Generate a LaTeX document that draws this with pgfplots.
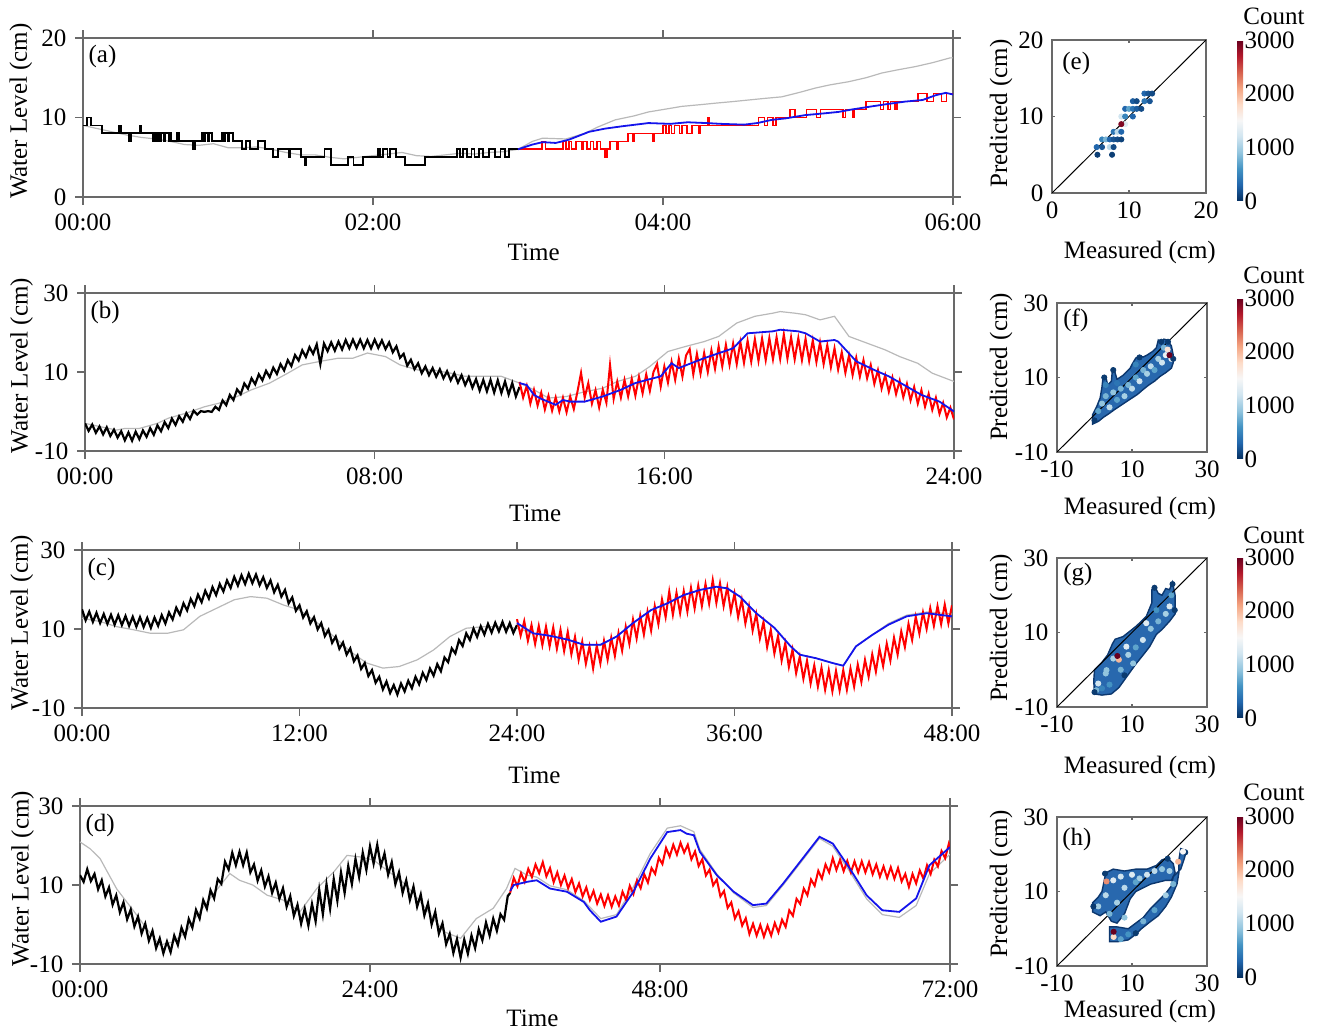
\documentclass[border=0pt]{standalone}
\usepackage{fontspec}
\setmainfont{Liberation Serif}
\usepackage{pgfplots}
\pgfplotsset{compat=1.18}

\definecolor{grayline}{RGB}{185,185,185}
\definecolor{redline}{RGB}{255,0,0}
\definecolor{blueline}{RGB}{20,20,235}
\definecolor{frame}{RGB}{105,105,105}
\definecolor{cloud}{RGB}{40,104,174}
\definecolor{cloudedge}{RGB}{12,55,110}

\pgfplotsset{
  colormap={rdbu}{rgb255(0cm)=(5,48,97); rgb255(1cm)=(33,102,172); rgb255(2cm)=(67,147,195);
    rgb255(3cm)=(146,197,222); rgb255(4cm)=(209,229,240); rgb255(5cm)=(247,247,247);
    rgb255(6cm)=(253,219,199); rgb255(7cm)=(244,165,130); rgb255(8cm)=(214,96,77);
    rgb255(9cm)=(178,24,43); rgb255(10cm)=(103,0,31)},
  base/.style={scale only axis, axis line style={frame, line width=0.6pt},
    every tick/.style={frame, line width=0.6pt},
    /pgf/number format/assume math mode=true, clip=true},
  ts/.style={base, width=435pt, height=79pt, tick align=outside, major tick length=4pt,
    ymin=-10, ymax=30, ytick={-10,10,30}, xlabel=Time, ylabel={Water Level (cm)}},
  sc/.style={base, width=75pt, height=74.5pt, tick align=inside, major tick length=1.5pt,
    xmin=-10, xmax=30, ymin=-10, ymax=30, xtick={-10,10,30}, ytick={-10,10,30},
    xlabel={Measured (cm)}, ylabel={Predicted (cm)},
    point meta min=0, point meta max=3000, colormap name=rdbu, colorbar right,
    colorbar shift/.style={}},
  cbar/.style 2 args={colorbar style={at={(parent axis.north east)}, anchor=north west,
    xshift=#1, yshift=#2, scale only axis, width=3pt, height=80.5pt,
    ytick={0,1000,2000,3000}, yticklabels={0,1000,2000,3000}, major tick length=0pt,
    axis line style={draw=none}, yticklabel style={xshift=-3.5pt}}},
  hex/.style={scatter, only marks, mark=*, mark size=1.3pt, scatter src=explicit,
    scatter/use mapped color={draw=mapped color, fill=mapped color}},
  blob/.style={fill=cloud, draw=cloudedge, line width=0.7pt},
  gline/.style={grayline, line width=0.6pt},
  kline/.style={black, line width=1.1pt},
  rline/.style={redline, line width=1.0pt},
  bline/.style={blueline, line width=0.9pt},
}

\begin{document}
\fontsize{12.5}{15}\selectfont
\begin{tikzpicture}
\path[use as bounding box] (0,0) rectangle (659.5pt,-516pt);

% ---------- (a)
\begin{axis}[ts, at={(41.5pt,-98.5pt)}, anchor=south west, width=435pt, height=79.5pt,
  xmin=0, xmax=6, ymin=0, ymax=20, ytick={0,10,20},
  xtick={0,2,4,6}, xticklabels={00:00,02:00,04:00,06:00},
  xlabel style={at={(axis description cs:0.518,-0.346)}, anchor=center},
  ylabel style={at={(axis description cs:-0.0713,0.54)}, anchor=center}]
\addplot[gline] coordinates {(0,9.0)(0.1,8.6)(0.2,8.2)(0.3,7.8)(0.4,7.5)(0.5,7.3)(0.6,7.0)(0.7,6.6)(0.8,6.5)(0.9,6.7)(1.0,6.2)(1.1,6.2)(1.2,6.3)(1.3,6.0)(1.4,5.6)(1.5,5.3)(1.6,5.3)(1.7,5.0)(1.8,4.8)(1.9,5.0)(2.0,5.2)(2.1,5.4)(2.2,5.6)(2.3,5.2)(2.4,5.1)(2.5,5.3)(2.6,5.5)(2.7,5.4)(2.8,5.6)(2.9,5.7)(3.0,6.0)(3.1,7.0)(3.17,7.4)(3.33,7.3)(3.46,8.0)(3.55,8.8)(3.67,9.7)(3.8,10.2)(3.9,10.7)(4.0,11.0)(4.13,11.4)(4.25,11.6)(4.36,11.8)(4.48,12.0)(4.59,12.2)(4.7,12.4)(4.82,12.6)(4.95,13.2)(5.05,13.7)(5.15,14.1)(5.28,14.5)(5.4,15.0)(5.51,15.6)(5.62,16.0)(5.74,16.4)(5.86,16.9)(5.98,17.5)(6.0,17.5)};
\addplot[black, line width=0.9pt, const plot] coordinates {(0,9)(0.03,10)(0.055,9)(0.13,8)(0.25,9)(0.26,8)(0.32,7)(0.33,8)(0.39,9)(0.40,8)(0.485,7)(0.495,8)(0.505,7)(0.515,8)(0.53,7)(0.54,8)(0.555,7)(0.565,8)(0.59,7)(0.6,8)(0.611,7)(0.65,8)(0.66,7)(0.76,6)(0.77,7)(0.82,8)(0.83,7)(0.84,8)(0.86,7)(0.87,8)(0.89,7)(0.955,8)(0.965,7)(0.98,8)(1.0,7)(1.01,8)(1.035,7)(1.094,6)(1.125,7)(1.15,6)(1.205,7)(1.255,6)(1.31,5)(1.345,6)(1.42,5)(1.43,6)(1.505,5)(1.53,4)(1.54,5)(1.665,6)(1.71,4)(1.83,5)(1.865,4)(1.93,5)(2.035,6)(2.05,5)(2.07,6)(2.1,5)(2.12,6)(2.16,5)(2.22,4)(2.36,5)(2.58,6)(2.6,5)(2.62,6)(2.65,5)(2.68,6)(2.7,5)(2.73,6)(2.76,5)(2.8,6)(2.84,5)(2.88,6)(2.91,5)(2.94,6)(3.0,6)};
\addplot[redline, line width=0.8pt, const plot] coordinates {(3.0,6)(3.165,7)(3.19,6)(3.31,7)(3.33,6)(3.35,7)(3.37,6)(3.4,7)(3.44,6)(3.45,7)(3.475,6)(3.5,7)(3.52,6)(3.545,7)(3.57,6)(3.6,5)(3.615,6)(3.635,7)(3.68,6)(3.69,7)(3.76,8)(3.79,7)(3.8,8)(3.93,7)(3.94,8)(4.0,9)(4.02,8)(4.04,9)(4.06,8)(4.08,9)(4.115,8)(4.13,9)(4.165,8)(4.2,9)(4.25,8)(4.26,9)(4.31,10)(4.32,9)(4.66,10)(4.7,9)(4.72,10)(4.76,9)(4.78,10)(4.875,11)(4.91,10)(4.99,11)(5.06,10)(5.085,11)(5.24,10)(5.26,11)(5.31,10)(5.32,11)(5.4,12)(5.5,11)(5.52,12)(5.55,11)(5.57,12)(5.6,11)(5.615,12)(5.76,13)(5.82,12)(5.865,13)(5.92,12)(5.955,13)(6.0,13)};
\addplot[bline] coordinates {(3.0,6)(3.1,6.6)(3.17,6.9)(3.26,6.8)(3.35,7.2)(3.49,8.2)(3.6,8.6)(3.72,8.9)(3.9,9.3)(4.05,9.2)(4.17,9.4)(4.3,9.3)(4.4,9.2)(4.56,9.1)(4.65,9.3)(4.75,9.7)(4.85,9.9)(4.98,10.3)(5.1,10.5)(5.21,10.7)(5.3,11.0)(5.44,11.4)(5.55,11.7)(5.67,12.0)(5.79,12.2)(5.88,12.8)(5.95,13.1)(6.0,12.9)};
\node[anchor=north west, inner sep=0pt] at (rel axis cs:0.006,0.956) {(a)};
\end{axis}

% ---------- (b)
\begin{axis}[ts, at={(42.5pt,-225.5pt)}, anchor=south west, width=434.5pt,
  xmin=0, xmax=24, xtick={0,8,16,24}, xticklabels={00:00,08:00,16:00,24:00},
  xlabel style={at={(axis description cs:0.518,-0.392)}, anchor=center},
  ylabel style={at={(axis description cs:-0.073,0.54)}, anchor=center}]
\addplot[gline] coordinates {(0,-3)(0.4,-3.8)(0.87,-4.7)(1.1,-4.3)(1.5,-4.3)(2.0,-3.0)(2.3,-1.7)(2.8,-0.4)(3.3,1.2)(3.7,2.1)(4.2,3.8)(4.6,5.5)(5.1,7.2)(5.6,9.7)(6.0,11.8)(6.5,12.7)(7.0,13.5)(7.4,13.5)(7.8,14.8)(8.3,13.9)(8.7,11.8)(9.2,10.5)(9.6,10.5)(10.1,9.7)(10.5,8.9)(11.0,8.9)(11.5,8.9)(12.0,7.2)(12.4,5.5)(12.8,3.4)(13.3,3.8)(13.8,5.0)(14.3,5.9)(14.7,7.6)(15.2,8.9)(15.6,11.4)(16.1,15.2)(16.6,16.5)(17.1,17.7)(17.5,19.0)(18.0,22.4)(18.5,24.1)(19.0,24.9)(19.2,25.3)(19.6,24.9)(19.9,24.5)(20.3,23.2)(20.7,24.1)(21.1,19.0)(21.6,17.3)(22.1,15.6)(22.5,13.9)(23.0,12.2)(23.4,9.7)(24.0,7.6)};
\addplot[kline] coordinates {(0.0,-3.0)(0.1,-4.9)(0.2,-3.3)(0.3,-5.4)(0.4,-3.8)(0.5,-5.8)(0.6,-4.0)(0.7,-6.2)(0.8,-4.6)(0.9,-6.6)(1.0,-5.0)(1.1,-7.3)(1.2,-5.3)(1.3,-7.4)(1.4,-5.1)(1.5,-7.0)(1.6,-4.8)(1.7,-6.4)(1.8,-4.2)(1.9,-5.9)(2.0,-3.5)(2.1,-5.0)(2.2,-2.7)(2.3,-4.2)(2.4,-1.8)(2.5,-3.4)(2.6,-1.2)(2.7,-2.6)(2.8,-0.4)(2.9,-1.9)(3.0,0.2)(3.1,-0.8)(3.2,0.1)(3.3,-0.1)(3.4,0.1)(3.5,-0.1)(3.6,1.2)(3.7,0.4)(3.8,2.8)(3.9,1.6)(4.0,4.2)(4.1,2.9)(4.2,5.6)(4.3,4.4)(4.4,7.1)(4.5,5.8)(4.6,8.4)(4.7,6.9)(4.8,9.4)(4.9,7.9)(5.0,10.3)(5.1,8.7)(5.2,11.1)(5.3,9.5)(5.4,12.0)(5.5,10.4)(5.6,13.0)(5.7,11.5)(5.8,14.3)(5.9,12.9)(6.0,15.5)(6.1,13.8)(6.2,16.3)(6.3,14.6)(6.4,17.0)(6.5,12.0)(6.6,17.2)(6.7,15.3)(6.8,17.5)(6.9,15.4)(7.0,17.7)(7.1,15.7)(7.2,18.1)(7.3,16.0)(7.4,18.2)(7.5,16.1)(7.6,18.2)(7.7,16.0)(7.8,18.1)(7.9,16.0)(8.0,18.2)(8.1,16.1)(8.2,18.0)(8.3,15.8)(8.4,17.5)(8.5,15.0)(8.6,16.5)(8.7,13.6)(8.8,14.6)(8.9,11.6)(9.0,13.1)(9.1,10.7)(9.2,12.2)(9.3,9.7)(9.4,11.4)(9.5,9.2)(9.6,11.0)(9.7,8.8)(9.8,10.7)(9.9,8.4)(10.0,10.2)(10.1,7.9)(10.2,9.7)(10.3,7.3)(10.4,9.2)(10.5,6.7)(10.6,8.7)(10.7,6.0)(10.8,8.2)(10.9,5.3)(11.0,8.0)(11.1,5.1)(11.2,8.0)(11.3,4.8)(11.4,7.9)(11.5,4.7)(11.6,7.6)(11.7,4.3)(11.8,7.2)(11.9,3.8)(12.0,6.2)};
\addplot[rline] coordinates {(12.0,7.5)(12.1,3.5)(12.2,6.5)(12.3,2.0)(12.4,5.5)(12.5,1.5)(12.6,4.8)(12.7,0.5)(12.8,4.0)(12.9,0.2)(13.0,3.6)(13.1,0.0)(13.2,3.5)(13.3,-0.2)(13.4,3.8)(13.5,0.6)(13.6,5.0)(13.7,9.8)(13.8,3.5)(13.9,7.2)(14.0,2.0)(14.1,5.4)(14.2,1.0)(14.3,5.5)(14.4,2.2)(14.5,11.8)(14.6,3.2)(14.7,7.6)(14.8,3.5)(14.9,8.0)(15.0,3.8)(15.1,8.3)(15.2,4.0)(15.3,8.8)(15.4,4.6)(15.5,9.4)(15.6,5.2)(15.7,10.0)(15.8,12.0)(15.9,6.3)(16.0,11.4)(16.1,7.3)(16.2,12.6)(16.3,8.0)(16.4,13.4)(16.5,8.8)(16.6,14.2)(16.7,15.8)(16.8,9.4)(16.9,14.6)(17.0,9.6)(17.1,14.8)(17.2,10.0)(17.3,15.5)(17.4,10.8)(17.5,16.5)(17.6,11.4)(17.7,16.9)(17.8,11.8)(17.9,17.2)(18.0,12.0)(18.1,17.6)(18.2,12.3)(18.3,17.9)(18.4,12.6)(18.5,18.3)(18.6,12.8)(18.7,18.5)(18.8,13.0)(18.9,18.6)(19.0,13.2)(19.1,18.8)(19.2,13.3)(19.3,19.5)(19.4,13.4)(19.5,18.8)(19.6,13.2)(19.7,18.6)(19.8,13.0)(19.9,18.4)(20.0,12.8)(20.1,18.0)(20.2,12.5)(20.3,17.5)(20.4,12.0)(20.5,16.8)(20.6,11.2)(20.7,16.0)(20.8,10.6)(20.9,15.0)(21.0,9.8)(21.1,14.2)(21.2,9.2)(21.3,13.6)(21.4,8.8)(21.5,13.0)(21.6,8.4)(21.7,11.8)(21.8,7.0)(21.9,10.5)(22.0,5.8)(22.1,9.2)(22.2,5.0)(22.3,8.6)(22.4,4.4)(22.5,7.8)(22.6,3.6)(22.7,7.0)(22.8,2.8)(22.9,6.2)(23.0,2.0)(23.1,5.4)(23.2,1.2)(23.3,4.5)(23.4,0.4)(23.5,3.5)(23.6,-0.6)(23.7,2.2)(23.8,-1.5)(23.9,1.0)(24.0,-2.0)};
\addplot[bline] coordinates {(12.0,7.2)(12.2,6.7)(12.4,4.2)(12.6,3.2)(13.0,1.7)(13.2,2.9)(13.4,2.5)(13.8,2.5)(14.3,3.8)(14.8,5.5)(15.2,7.2)(15.6,8.2)(15.9,8.9)(16.2,12.2)(16.4,11.0)(17.1,13.5)(17.9,16.0)(18.3,19.8)(19.0,20.3)(19.2,20.7)(19.7,20.3)(19.9,19.8)(20.3,17.7)(20.7,18.1)(20.8,17.7)(21.3,12.7)(21.8,10.5)(22.2,8.9)(22.7,6.3)(23.1,4.2)(23.6,2.5)(24.0,0.0)};
\node[anchor=north west, inner sep=0pt] at (rel axis cs:0.006,0.95) {(b)};
\end{axis}

% ---------- (c)
\begin{axis}[ts, at={(41pt,-354pt)}, anchor=south west,
  xmin=0, xmax=48, xtick={0,12,24,36,48}, xticklabels={00:00,12:00,24:00,36:00,48:00},
  xlabel style={at={(axis description cs:0.52,-0.424)}, anchor=center},
  ylabel style={at={(axis description cs:-0.069,0.54)}, anchor=center}]
\addplot[gline] coordinates {(0,12.7)(1.0,11.9)(1.9,10.6)(2.85,9.8)(3.8,8.9)(4.7,8.9)(5.6,9.8)(6.5,13.2)(7.45,15.3)(8.4,17.4)(9.3,18.2)(10.2,17.8)(11.1,16.1)(12.0,14.8)(13.0,11.5)(13.9,8.1)(14.8,4.3)(15.7,1.4)(16.6,0.1)(17.5,0.5)(18.5,2.2)(19.4,4.7)(20.3,8.1)(21.2,10.2)(22.2,10.6)(23.1,10.6)(24.0,10.2)(24.9,8.9)(25.8,8.3)(26.8,7.3)(27.7,6.0)(28.6,5.8)(29.5,8.1)(30.4,11.5)(31.4,14.8)(32.3,16.5)(33.2,18.6)(34.1,19.9)(35.0,20.7)(35.5,20.3)(36.3,18.2)(37.2,14.0)(38.2,10.3)(39.1,5.6)(39.6,3.5)(40.5,2.6)(41.4,1.4)(42.0,0.7)(42.7,5.6)(43.6,8.5)(44.5,11.4)(45.5,13.5)(46.6,14.3)(48.0,13.8)};
\addplot[kline] coordinates {(0.0,15.0)(0.2,12.2)(0.4,14.4)(0.6,11.8)(0.8,14.1)(1.0,11.5)(1.2,13.8)(1.4,11.3)(1.6,13.6)(1.8,11.1)(2.0,13.5)(2.2,11.0)(2.4,13.3)(2.6,10.8)(2.8,13.1)(3.0,10.6)(3.2,13.0)(3.4,10.5)(3.6,12.8)(3.8,10.3)(4.0,12.9)(4.2,10.8)(4.4,13.5)(4.6,11.4)(4.8,14.2)(5.0,12.4)(5.2,15.4)(5.4,13.6)(5.6,16.5)(5.8,14.7)(6.0,17.6)(6.2,15.8)(6.4,18.7)(6.6,16.8)(6.8,19.7)(7.0,17.7)(7.2,20.6)(7.4,18.6)(7.6,21.4)(7.8,19.5)(8.0,22.3)(8.2,20.4)(8.4,23.2)(8.6,21.0)(8.8,23.6)(9.0,21.4)(9.2,24.0)(9.4,21.6)(9.6,23.8)(9.8,21.1)(10.0,23.1)(10.2,20.4)(10.4,22.3)(10.6,19.3)(10.8,21.2)(11.0,18.2)(11.2,19.9)(11.4,16.5)(11.6,18.0)(11.8,14.6)(12.0,16.0)(12.2,12.9)(12.4,14.5)(12.6,11.4)(12.8,13.0)(13.0,9.9)(13.2,11.5)(13.4,8.2)(13.6,9.8)(13.8,6.5)(14.0,8.1)(14.2,5.0)(14.4,6.6)(14.6,3.5)(14.8,5.1)(15.0,1.8)(15.2,3.3)(15.4,-0.1)(15.6,1.4)(15.8,-1.9)(16.0,-0.4)(16.2,-3.6)(16.4,-2.1)(16.6,-5.3)(16.8,-3.3)(17.0,-6.2)(17.2,-4.2)(17.4,-6.6)(17.6,-3.8)(17.8,-5.8)(18.0,-3.1)(18.2,-5.0)(18.4,-2.1)(18.6,-4.0)(18.8,-1.1)(19.0,-2.9)(19.2,0.0)(19.4,-1.8)(19.6,1.1)(19.8,-0.7)(20.0,2.8)(20.2,1.6)(20.4,5.1)(20.6,3.8)(20.8,7.2)(21.0,5.7)(21.2,8.9)(21.4,7.2)(21.6,10.1)(21.8,8.0)(22.0,10.7)(22.2,8.6)(22.4,11.3)(22.6,9.1)(22.8,11.6)(23.0,9.4)(23.2,11.8)(23.4,9.3)(23.6,11.5)(23.8,9.0)(24.0,11.0)};
\addplot[rline] coordinates {(24.0,12.5)(24.2,8.3)(24.4,12.0)(24.6,7.0)(24.8,11.0)(25.0,6.2)(25.2,10.8)(25.4,5.9)(25.6,10.6)(25.8,5.6)(26.0,10.4)(26.2,5.0)(26.4,9.8)(26.6,4.4)(26.8,9.3)(27.0,3.6)(27.2,8.0)(27.4,2.2)(27.6,6.8)(27.8,1.2)(28.0,5.6)(28.2,0.0)(28.4,5.8)(28.6,1.3)(28.8,7.0)(29.0,2.2)(29.2,7.8)(29.4,3.2)(29.6,9.0)(29.8,4.5)(30.0,10.6)(30.2,6.2)(30.4,12.4)(30.6,7.6)(30.8,13.4)(31.0,8.6)(31.2,14.4)(31.4,9.6)(31.6,15.8)(31.8,11.2)(32.0,17.5)(32.2,13.0)(32.4,19.5)(32.6,13.6)(32.8,19.2)(33.0,14.0)(33.2,19.6)(33.4,14.4)(33.6,20.4)(33.8,15.2)(34.0,21.0)(34.2,15.8)(34.4,21.4)(34.6,16.4)(34.8,22.4)(35.0,16.6)(35.2,21.6)(35.4,15.8)(35.6,20.6)(35.8,14.4)(36.0,19.0)(36.2,13.0)(36.4,17.4)(36.6,11.4)(36.8,15.8)(37.0,9.6)(37.2,13.8)(37.4,7.6)(37.6,11.8)(37.8,5.4)(38.0,9.8)(38.2,3.8)(38.4,8.2)(38.6,2.0)(38.8,6.4)(39.0,0.4)(39.2,4.8)(39.4,-1.2)(39.6,3.0)(39.8,-2.6)(40.0,2.0)(40.2,-3.8)(40.4,0.8)(40.6,-4.6)(40.8,0.2)(41.0,-5.4)(41.2,-0.4)(41.4,-5.8)(41.6,-0.6)(41.8,-5.6)(42.0,-0.4)(42.2,-5.4)(42.4,0.0)(42.6,-4.6)(42.8,1.0)(43.0,-3.4)(43.2,2.2)(43.4,-2.1)(43.6,3.6)(43.8,-0.8)(44.0,5.0)(44.2,0.6)(44.4,6.3)(44.6,2.0)(44.8,7.8)(45.0,3.5)(45.2,9.4)(45.4,5.4)(45.6,11.3)(45.8,7.2)(46.0,13.1)(46.2,8.8)(46.4,14.2)(46.6,10.0)(46.8,15.3)(47.0,10.8)(47.2,15.8)(47.4,11.2)(47.6,16.2)(47.8,11.4)(48.0,16.0)};
\addplot[bline] coordinates {(24.0,11.5)(24.9,8.9)(25.8,8.3)(26.8,7.3)(27.7,6.0)(28.6,6.0)(29.5,8.1)(30.4,11.5)(31.4,14.8)(32.3,16.5)(33.2,18.6)(34.1,19.9)(35.0,20.7)(35.6,20.3)(36.3,18.2)(37.2,14.0)(38.2,10.3)(39.1,5.6)(39.6,3.5)(40.5,2.6)(41.4,1.4)(42.0,0.7)(42.7,5.6)(43.6,8.5)(44.5,11.1)(45.5,13.2)(46.6,14.0)(48.0,13.2)};
\node[anchor=north west, inner sep=0pt] at (rel axis cs:0.006,0.95) {(c)};
\end{axis}

% ---------- (d)
\begin{axis}[ts, at={(40pt,-482pt)}, anchor=south west,
  xmin=0, xmax=72, xtick={0,24,48,72}, xticklabels={00:00,24:00,48:00,72:00},
  xlabel style={at={(axis description cs:0.52,-0.342)}, anchor=center},
  ylabel style={at={(axis description cs:-0.066,0.54)}, anchor=center}]
\addplot[gline] coordinates {(0,20.9)(0.83,19.2)(1.66,16.7)(3.04,9.0)(4.4,3.6)(5.8,-2.2)(6.6,-5.2)(7.7,-4.4)(8.8,-1.8)(9.9,3.2)(11.3,8.7)(12.4,12.9)(13.2,11.2)(14.3,10.0)(15.5,7.4)(16.8,6.2)(18.2,3.2)(19.6,9.1)(21.0,13.3)(22.1,17.5)(23.2,17.1)(24.3,16.3)(25.6,13.3)(27.0,10.0)(28.4,4.9)(30.1,-1.8)(31.5,-3.5)(32.8,1.5)(34.2,4.1)(35.3,9.1)(36.0,14.2)(37.0,12.5)(37.8,12.0)(38.9,9.8)(40.3,8.8)(41.7,6.0)(43.1,1.5)(44.4,2.5)(45.8,9.5)(47.2,18.0)(48.6,24.4)(49.7,25.0)(50.8,23.5)(51.3,19.0)(52.7,12.8)(54.1,8.0)(55.7,4.3)(56.8,4.8)(58.2,10.0)(59.6,15.5)(61.2,21.8)(62.3,19.8)(63.7,13.4)(65.1,6.5)(66.4,2.5)(67.8,1.8)(69.2,4.8)(70.3,12.8)(72.0,17.8)};
\addplot[kline] coordinates {(0.0,12.5)(0.3,10.8)(0.6,14.0)(0.9,11.0)(1.2,12.8)(1.5,8.9)(1.8,11.2)(2.1,7.1)(2.4,9.4)(2.7,5.0)(3.0,7.4)(3.3,3.1)(3.6,5.6)(3.9,1.3)(4.2,3.8)(4.5,-0.5)(4.8,2.0)(5.1,-2.3)(5.4,0.2)(5.7,-4.1)(6.0,-1.6)(6.3,-6.0)(6.6,-3.5)(6.9,-7.3)(7.2,-4.3)(7.5,-7.0)(7.8,-2.8)(8.1,-5.2)(8.4,-0.8)(8.7,-3.1)(9.0,1.4)(9.3,-0.8)(9.6,3.7)(9.9,1.5)(10.2,6.2)(10.5,4.0)(10.8,8.7)(11.1,6.6)(11.4,11.5)(11.7,10.3)(12.0,15.9)(12.3,13.9)(12.6,18.2)(12.9,15.0)(13.2,18.4)(13.5,15.0)(13.8,18.2)(14.1,13.2)(14.4,15.2)(14.7,11.1)(15.0,13.7)(15.3,9.6)(15.6,12.2)(15.9,8.0)(16.2,10.6)(16.5,6.5)(16.8,9.2)(17.1,4.5)(17.4,7.2)(17.7,2.2)(18.0,5.0)(18.3,0.2)(18.6,4.0)(18.9,-0.3)(19.2,5.2)(19.5,0.8)(19.8,8.8)(20.1,2.6)(20.4,10.2)(20.7,4.0)(21.0,11.5)(21.3,6.0)(21.6,13.2)(21.9,8.0)(22.2,14.8)(22.5,10.2)(22.8,16.6)(23.1,12.0)(23.4,18.2)(23.7,13.8)(24.0,19.8)(24.3,15.4)(24.6,20.2)(24.9,14.8)(25.2,18.0)(25.5,12.6)(25.8,15.8)(26.1,10.2)(26.4,13.2)(26.7,8.0)(27.0,11.2)(27.3,6.2)(27.6,9.6)(27.9,4.5)(28.2,7.6)(28.5,2.3)(28.8,5.4)(29.1,0.0)(29.4,3.2)(29.7,-2.3)(30.0,0.3)(30.3,-5.0)(30.6,-2.4)(30.9,-7.2)(31.2,-3.7)(31.5,-8.4)(31.8,-3.8)(32.1,-7.4)(32.4,-2.8)(32.7,-6.0)(33.0,-1.2)(33.3,-4.0)(33.6,0.5)(33.9,-2.8)(34.2,1.5)(34.5,-1.6)(34.8,2.6)(35.1,1.2)(35.4,7.2)(35.6,8.0)};
\addplot[rline] coordinates {(35.6,8.0)(35.9,11.8)(36.2,9.7)(36.5,13.0)(36.8,10.8)(37.1,14.1)(37.4,12.0)(37.7,15.2)(38.0,13.0)(38.3,15.8)(38.6,12.2)(38.9,14.3)(39.2,10.7)(39.5,13.2)(39.8,10.0)(40.1,12.4)(40.4,9.2)(40.7,11.5)(41.0,8.2)(41.3,10.4)(41.6,7.1)(41.9,9.4)(42.2,6.2)(42.5,8.5)(42.8,5.3)(43.1,7.6)(43.4,4.7)(43.7,7.4)(44.0,4.5)(44.3,7.1)(44.6,4.8)(44.9,8.3)(45.2,6.2)(45.5,9.8)(45.8,7.7)(46.1,11.2)(46.4,9.2)(46.7,12.7)(47.0,10.6)(47.3,14.3)(47.6,12.8)(47.9,16.9)(48.2,15.3)(48.5,19.4)(48.8,17.2)(49.1,20.2)(49.4,17.7)(49.7,20.7)(50.0,18.2)(50.3,20.2)(50.6,16.5)(50.9,18.5)(51.2,14.8)(51.5,16.5)(51.8,12.4)(52.1,13.9)(52.4,9.9)(52.7,11.4)(53.0,7.1)(53.3,8.5)(53.6,4.2)(53.9,5.6)(54.2,1.5)(54.5,3.4)(54.8,-0.3)(55.1,1.6)(55.4,-2.4)(55.7,0.2)(56.0,-2.8)(56.3,-0.1)(56.6,-3.1)(56.9,-0.3)(57.2,-2.8)(57.5,0.4)(57.8,-2.0)(58.1,1.2)(58.4,-0.6)(58.7,3.6)(59.0,2.2)(59.3,6.5)(59.6,5.2)(59.9,9.1)(60.2,7.4)(60.5,11.4)(60.8,9.8)(61.1,13.6)(61.4,11.6)(61.7,15.2)(62.0,13.2)(62.3,16.8)(62.6,13.8)(62.9,16.4)(63.2,13.5)(63.5,16.1)(63.8,13.2)(64.1,16.0)(64.4,13.2)(64.7,16.0)(65.0,13.2)(65.3,15.8)(65.6,12.7)(65.9,15.2)(66.2,12.1)(66.5,14.7)(66.8,11.8)(67.1,14.5)(67.4,11.6)(67.7,14.3)(68.0,10.9)(68.3,12.8)(68.6,9.5)(68.9,12.8)(69.2,10.4)(69.5,13.7)(69.8,11.6)(70.1,15.0)(70.4,12.8)(70.7,16.4)(71.0,14.7)(71.3,18.6)(71.6,16.8)(71.9,20.4)(72.0,19.2)};
\addplot[bline] coordinates {(35.6,8.5)(35.9,10.0)(37.0,10.8)(37.8,11.2)(38.9,9.1)(40.3,8.3)(41.7,5.7)(42.2,3.6)(43.1,0.7)(44.4,2.0)(45.8,8.3)(47.2,16.7)(48.6,23.4)(49.7,23.9)(50.2,23.0)(50.8,22.6)(51.3,18.4)(52.7,12.5)(54.1,8.3)(55.7,4.9)(56.8,5.3)(58.2,10.4)(59.6,15.9)(61.2,22.2)(62.3,20.5)(63.7,14.2)(65.1,7.4)(66.4,3.6)(67.8,3.2)(69.2,6.6)(70.3,15.0)(72.0,19.6)};
\node[anchor=north west, inner sep=0pt] at (rel axis cs:0.006,0.95) {(d)};
\end{axis}

% ---------- (e)
\begin{axis}[sc, name=pe, at={(526pt,-96.5pt)}, anchor=south west, width=77pt, height=76.5pt,
  xmin=0, xmax=20, ymin=0, ymax=20, xtick={0,10,20}, ytick={0,10,20},
  cbar={15.5pt}{0pt},
  xlabel style={at={(axis description cs:0.57,-0.386)}, anchor=center},
  ylabel style={at={(axis description cs:-0.331,0.52)}, anchor=center}]
\addplot[hex] table[x=x, y=y, meta=c] {
x y c
12 13 300
12.5 13 200
13 13 150
10.5 12 250
11 12 150
12 12 400
12.7 12 200
9.5 11 300
10 11 700
10.5 11 400
11 11 250
11.6 11 150
9 10 1200
9.5 10 500
10.5 10 300
9.5 9 1300
8 8 400
8.5 8 1100
9 8 300
6.5 7 500
7 7 800
7.5 7 300
8 7 200
8.5 7 150
9 7 100
5.8 6 300
6.5 6 200
7.5 6 1100
8 6 150
5.9 5 80
7.8 5 80
9 9 2900
};
\addplot[black, line width=0.5pt] coordinates {(0,0) (20,20)};
\node[anchor=north west, inner sep=0pt] at (rel axis cs:0.065,0.92) {(e)};
\end{axis}
\node[anchor=base west, inner sep=0pt] at ([xshift=18.5pt, yshift=7.5pt]pe.north east) {Count};

% ---------- (f)
\begin{axis}[sc, name=pf, at={(528.5pt,-226pt)}, anchor=south west,
  cbar={15pt}{2.5pt},
  xlabel style={at={(axis description cs:0.553,-0.376)}, anchor=center},
  ylabel style={at={(axis description cs:-0.373,0.57)}, anchor=center}]
\addplot[blob] coordinates {(-0.5,-2.5)(1,-1.8)(2.5,-0.6)(4,0.4)(5.5,1.5)(7,2.5)(8.5,3.5)(10,4.5)(11.5,5.5)(13,6.8)(14.5,8)(16,9)(17.5,10.3)(19,11.3)(20.5,12.5)(21,14)(21,16)(20.5,18.5)(19.5,20)(18.5,20.3)(17.8,19)(17,20)(16.5,18)(15.5,17)(14,16)(13,15.5)(12,15.8)(11,15.2)(10,13.5)(9.5,12.5)(8.5,11.5)(7.5,10.5)(6,9.5)(5.2,12.3)(4.8,12.3)(4.5,9)(3.5,8)(3,10.3)(2.3,10.3)(2,7.5)(1.5,4.5)(0.5,2)(-0.5,0)} -- cycle;
\addplot[hex] table[x=x, y=y, meta=c] {
x y c
1 1 700
2 3 900
3 5 800
4 2 1100
5 6 900
6 4 700
7 7 800
8 5 1000
9 8 800
10 7 1100
11 10 700
12 9 1200
13 12 800
14 11 1000
15 13 1100
16 12 700
17 15 1000
18 14 1200
19 16 1400
18.5 18 800
20.5 15 1400
19.5 17.5 1700
3 8 500
6 8.5 400
11 13.5 500
0 -1.5 60
2.6 10 60
5 12 60
17.8 19.6 60
19.6 19.6 60
21 15 60
12 15.4 60
20 16 3000
};
\addplot[black, line width=0.5pt] coordinates {(-10,-10) (30,30)};
\node[anchor=north west, inner sep=0pt] at (rel axis cs:0.04,0.966) {(f)};
\end{axis}
\node[anchor=base west, inner sep=0pt] at ([xshift=18pt, yshift=9.5pt]pf.north east) {Count};

% ---------- (g)
\begin{axis}[sc, name=pg, at={(528.5pt,-353.5pt)}, anchor=south west,
  cbar={15pt}{0.5pt},
  xlabel style={at={(axis description cs:0.553,-0.409)}, anchor=center},
  ylabel style={at={(axis description cs:-0.373,0.53)}, anchor=center}]
\addplot[blob] coordinates {(0,-6.5)(2,-6.8)(4.5,-6.5)(6.5,-4.8)(8.5,-2)(11,1.5)(13,4)(14.7,6.2)(16.5,9.5)(18,10.8)(20,13)(21.5,15)(21.5,20)(20.8,23.5)(20,21.5)(19,21.8)(18,20)(17,20.5)(16,22.5)(15.3,21.5)(15.3,18)(13.8,14.3)(12.5,13)(11,11.6)(9,10)(7.6,8.9)(5.5,8.2)(4.8,7)(3.5,4)(2,2)(0,0)(-0.2,-3)} -- cycle;
\addplot[hex] table[x=x, y=y, meta=c] {
x y c
1 -3.7 1200
0.5 -5.5 800
3 -1 900
4 -4 600
8.5 6.2 1300
12.9 8 1200
13.8 12.5 1300
20 17 1300
10.3 1.7 900
3.2 -0.1 900
7 0 800
9 4 1000
11 6 700
15 11 900
17 13 800
19 15 1000
16.5 16 600
20.5 20 700
5 3 1000
2 -5 500
16 22 60
20.8 23 60
0 -6 60
21.4 16 60
8 -1.5 60
6.5 2.7 2000
6.1 3.7 3000
};
\addplot[black, line width=0.5pt] coordinates {(-10,-10) (30,30)};
\node[anchor=north west, inner sep=0pt] at (rel axis cs:0.04,0.966) {(g)};
\end{axis}
\node[anchor=base west, inner sep=0pt] at ([xshift=18pt, yshift=7.5pt]pg.north east) {Count};

% ---------- (h)
\begin{axis}[sc, name=ph, at={(528.5pt,-483pt)}, anchor=south west,
  cbar={15pt}{0.5pt},
  xlabel style={at={(axis description cs:0.553,-0.302)}, anchor=center},
  ylabel style={at={(axis description cs:-0.373,0.55)}, anchor=center}]
\addplot[blob] coordinates {(-0.5,7)(-0.5,4.5)(1.5,3.5)(3,4.5)(4.5,2)(6,1.5)(8,4)(9.5,8)(11,10)(13,11)(15,12)(17,12.5)(19,13)(20.5,13)(21.5,15)(21,17.5)(19.5,19)(18,18.5)(16.5,17)(14,16)(11,16)(8,15.5)(5,16)(3,15)(2.5,12.5)(2,10)(1,8.5)} -- cycle;
\addplot[blob] coordinates {(4,-3.5)(4,0.5)(6,0.5)(9,0)(11,1.5)(13,3)(15,5.5)(17,7.5)(19,9.5)(20.5,11.5)(21,14)(23,16)(24,19)(24.5,21)(23,21.5)(22.5,18.5)(22.5,15)(22,12)(20.5,8.5)(19,6)(17,3.5)(15,2)(12.5,0)(11,-1.5)(9,-3)(6,-3.5)} -- cycle;
\addplot[hex] table[x=x, y=y, meta=c] {
x y c
1 6 1000
3 9 1100
5 13 1300
7 14 1200
8 11 1100
10 14.5 1300
12 13.5 1000
14 14.5 1200
16 15.5 1100
18 16 900
6 7 1000
8 3 900
13 2 800
16 5 700
19 9 1000
21 12 800
20 15.5 1000
9 -1.5 600
7 -2.8 700
11 12.5 700
4 4 800
-0.3 6 60
2.8 14.8 60
19.5 18.8 60
24.2 20.5 60
11 -1.2 60
23.6 20.7 1500
5.1 -2.2 1800
22.3 18 2000
3.2 12.7 2200
5.1 -0.8 3000
};
\addplot[black, line width=0.5pt] coordinates {(-10,-10) (30,30)};
\node[anchor=north west, inner sep=0pt] at (rel axis cs:0.033,0.926) {(h)};
\end{axis}
\node[anchor=base west, inner sep=0pt] at ([xshift=18pt, yshift=8.5pt]ph.north east) {Count};
\end{tikzpicture}
\end{document}
